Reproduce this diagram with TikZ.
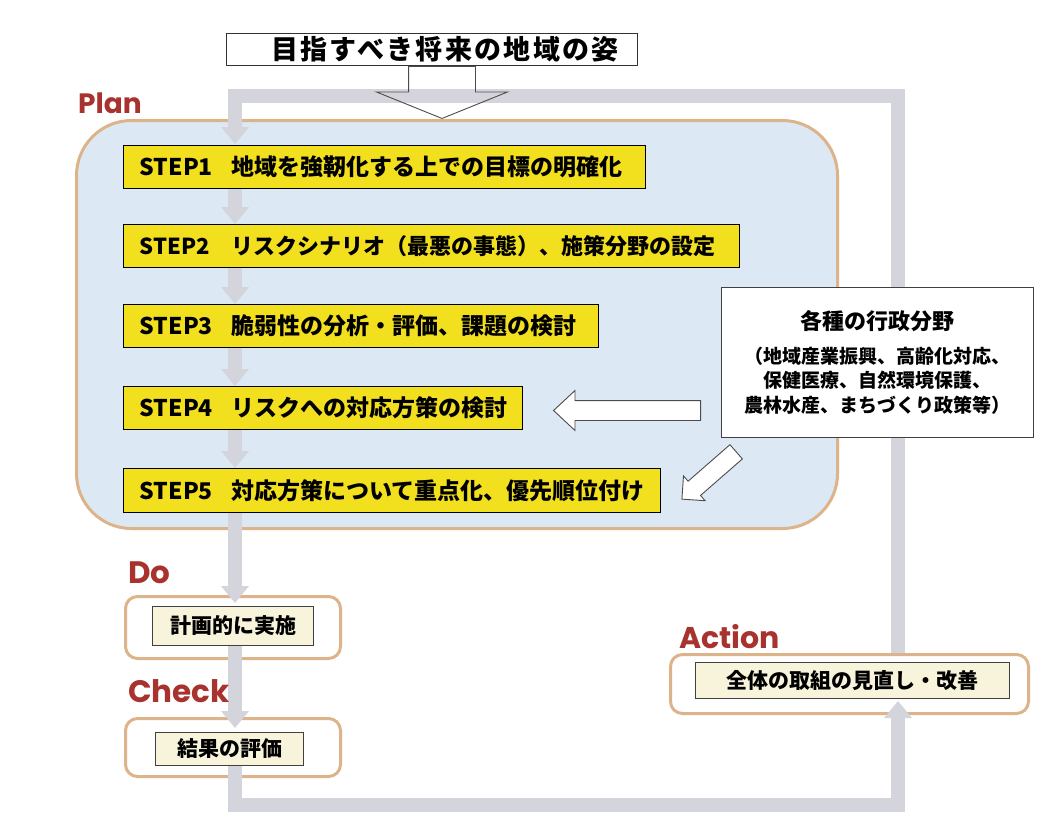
\documentclass[tikz,border=0pt]{standalone}
\usepackage{fontspec}
\setmainfont{Noto Sans CJK JP}
\newfontfamily\pdcafont{Poppins}
\usetikzlibrary{arrows.meta,shapes.arrows,calc}
\definecolor{plred}{HTML}{A8322D}
\definecolor{plblue}{HTML}{DCE9F5}
\definecolor{pltan}{HTML}{DDB38A}
\definecolor{plgray}{HTML}{D4D4DC}
\definecolor{plyellow}{HTML}{F2DF1E}
\definecolor{plcream}{HTML}{F8F4DC}
\pgfdeclarelayer{bg}
\pgfdeclarelayer{mid}
\pgfsetlayers{bg,mid,main}
\newcommand\stplabel[1]{\makebox[92pt][l]{#1}}
\tikzset{
  grayline/.style={draw=plgray, line width=14pt, line join=miter, -{Triangle[width=27pt,length=17pt]}},
  planbox/.style={draw=pltan, line width=3pt, fill=plblue, rounded corners=55pt, anchor=north west, inner sep=0pt},
  outerbox/.style={draw=pltan, line width=3pt, fill=white, rounded corners=12pt, anchor=north west, inner sep=0pt},
  stepbox/.style={draw=black, line width=1.2pt, fill=plyellow, anchor=north west, minimum height=43pt, inner xsep=16pt, inner ysep=0pt, align=left, font=\fontsize{23}{26}\selectfont\bfseries},
  innerbox/.style={draw=black!75, line width=1pt, fill=plcream, anchor=north west, inner sep=0pt, font=\fontsize{21}{24}\selectfont\bfseries},
  goalbox/.style={draw=black!80, line width=1pt, fill=white, anchor=north west, inner sep=0pt, font=\fontsize{27}{30}\selectfont\bfseries\addfontfeatures{LetterSpace=8.5}},
  adminbox/.style={draw=black!75, line width=1pt, fill=white, anchor=north west, inner sep=0pt, align=center, font=\fontsize{19}{24.5}\selectfont\bfseries},
  hollowarrow/.style={single arrow, draw=black!70, line width=0.9pt, fill=white, inner xsep=0pt, anchor=tail},
  pdca/.style={text=plred, anchor=base west, inner sep=0pt, font=\pdcafont\bfseries\fontsize{28}{32}\selectfont}
}
\begin{document}
\begin{tikzpicture}[x=1pt,y=-1pt]
\useasboundingbox (0,0) rectangle (1040,838);
\begin{pgfonlayer}{bg}
\fill[white] (0,0) rectangle (1040,838);
\node[planbox, minimum width=761pt, minimum height=408pt] (plan) at (75,119) {};
\node[outerbox, minimum width=215pt, minimum height=62pt] (doout) at (124,595) {};
\node[outerbox, minimum width=215pt, minimum height=58pt] (checkout) at (124,717) {};
\node[outerbox, minimum width=358pt, minimum height=59pt] (actout) at (669,653) {};
\end{pgfonlayer}

\node[goalbox, minimum width=411pt, minimum height=32pt] (goal) at (226,33) {\hspace*{26pt}目指すべき将来の地域の姿};

\node[stepbox, text width=490pt] (s1) at (123,145) {\stplabel{STEP1}地域を強靭化する上での目標の明確化};
\node[stepbox, text width=584pt, font=\fontsize{22}{26}\selectfont\bfseries] (s2) at (123,224) {\stplabel{STEP2}リスクシナリオ（最悪の事態）、施策分野の設定};
\node[stepbox, text width=443pt] (s3) at (123,304) {\stplabel{STEP3}脆弱性の分析・評価、課題の検討};
\node[stepbox, text width=367pt] (s4) at (123,386) {\stplabel{STEP4}リスクへの対応方策の検討};
\node[stepbox, text width=505pt, minimum height=44pt] (s5) at (123,468) {\stplabel{STEP5}対応方策について重点化、優先順位付け};

\node[adminbox, minimum width=312pt, minimum height=150pt] (admin) at (721,287)
  {{\fontsize{22}{26}\selectfont 各種の行政分野}\\[9pt]（地域産業振興、高齢化対応、\\保健医療、自然環境保護、\\農林水産、まちづくり政策等）};

\node[innerbox, minimum width=161pt, minimum height=39pt] (doin) at (152,606) {計画的に実施};
\node[innerbox, minimum width=148pt, minimum height=33pt] (checkin) at (155,732) {結果の評価};
\node[innerbox, minimum width=314pt, minimum height=36pt] (actin) at (695,662) {全体の取組の見直し・改善};

\node[pdca] (lplan) at (78,113) {Plan};
\node[pdca, font=\pdcafont\bfseries\fontsize{31}{34}\selectfont] (ldo) at (128,583) {Do};
\node[pdca, font=\pdcafont\bfseries\fontsize{31}{34}\selectfont] (lcheck) at (128,702) {Check};
\node[pdca, font=\pdcafont\bfseries\fontsize{30}{34}\selectfont] (laction) at (679,648) {Action};

\begin{pgfonlayer}{mid}
\coordinate (tl) at (235,96);
\coordinate (tr) at (898,96);
\coordinate (bl) at (235,805);
\coordinate (br) at (898,805);
\draw[grayline] (actout.north -| tr) -- (tr) -- (tl) -- ($(s1.north -| tl)+(0,-1)$);
\draw[grayline] (s1.south -| tl) -- (s2.north -| tl);
\draw[grayline] (s2.south -| tl) -- (s3.north -| tl);
\draw[grayline] (s3.south -| tl) -- (s4.north -| tl);
\draw[grayline] (s4.south -| tl) -- (s5.north -| tl);
\draw[grayline] (s5.south -| tl) -- ($(doin.north -| tl)+(0,-3)$);
\draw[grayline] (doin.south -| tl) -- ($(checkin.north -| tl)+(0,-4)$);
\draw[grayline] (checkin.south -| tl) -- (bl) -- (br) -- ($(actin.south -| br)+(0,2)$);
\end{pgfonlayer}

\node[hollowarrow, fill=none, single arrow tip angle=136, inner ysep=33pt, single arrow head extend=32pt, minimum height=52pt, rotate=-90] (goalarrow) at ($(goal.south)+(10,0)$) {};
\node[hollowarrow, single arrow tip angle=86, inner ysep=9.5pt, single arrow head extend=10pt, minimum height=147pt, rotate=180] (adminarrow) at ($(admin.west)+(-20,48)$) {};
\node[hollowarrow, single arrow tip angle=90, inner ysep=9pt, single arrow head extend=7pt, minimum height=72pt, rotate=221.1] (diagarrow) at ($(admin.south west)+(15.5,13.5)$) {};
\end{tikzpicture}
\end{document}
